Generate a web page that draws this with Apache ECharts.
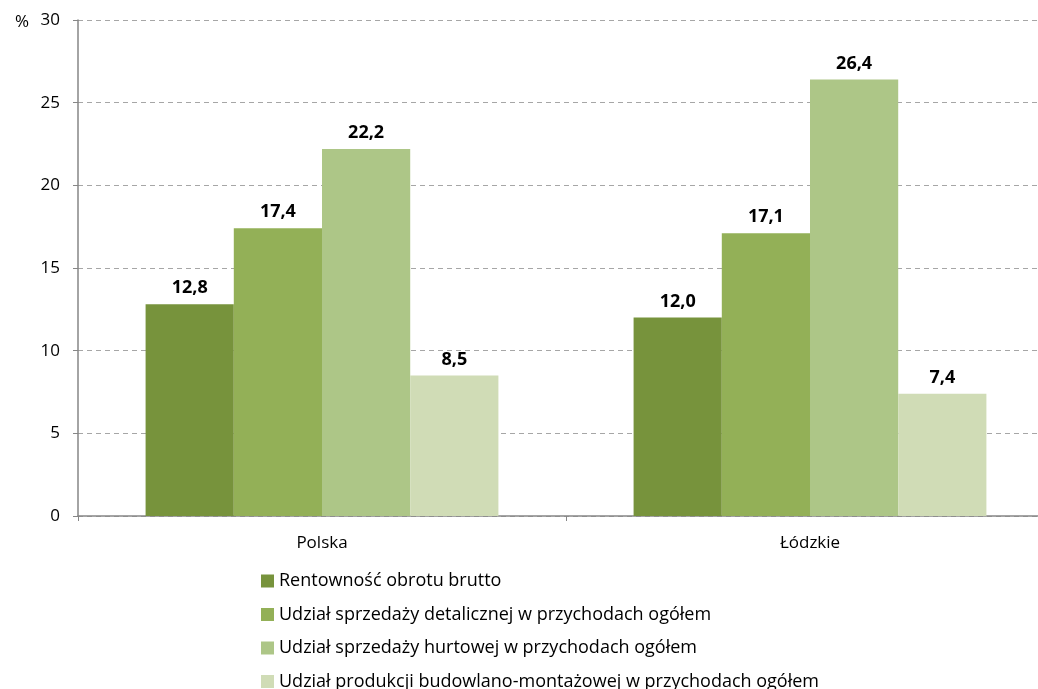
<!DOCTYPE html>
<html>
<head>
<meta charset="utf-8">
<script src="https://cdn.jsdelivr.net/npm/echarts@6/dist/echarts.min.js"></script>
<style>
  html, body { margin: 0; padding: 0; background: #fff; }
  #chart { width: 1038px; height: 689px; }
</style>
</head>
<body>
<div id="chart"></div>
<script>
var categories = ['Polska', 'Łódzkie']
var seriesNames = [
  'Rentowność obrotu brutto',
  'Udział sprzedaży detalicznej w przychodach ogółem',
  'Udział sprzedaży hurtowej w przychodach ogółem',
  'Udział produkcji budowlano-montażowej w przychodach ogółem'
]
var rentownosc = [12.8, 12.0]
var detaliczna = [17.4, 17.1]
var hurtowa = [22.2, 26.4]
var budowlana = [8.5, 7.4]
var colors = ['#77933C', '#93B057', '#ADC687', '#D0DCB6']

var font = '"Open Sans", "Noto Sans", sans-serif'
var chart = echarts.init(document.getElementById('chart'))

function makeSeries(name, data, i) {
  return {
    name: name,
    type: 'bar',
    data: data,
    barGap: '0%',
    barCategoryGap: '27.7%',
    itemStyle: { color: colors[i] },
    label: {
      show: true,
      position: 'top',
      distance: 7,
      fontFamily: font,
      fontSize: 18,
      fontWeight: 'bold',
      color: '#000',
      formatter: function (p) { return p.value.toFixed(1).replace('.', ',') }
    }
  }
}

var option = {
  animation: false,
  title: {
    text: '%',
    left: 10,
    top: 9,
    textStyle: { fontFamily: font, fontSize: 17, fontWeight: 'normal', color: '#000' }
  },
  grid: { left: 78, top: 20, right: -16, bottom: 173, outerBoundsMode: 'none' },
  legend: {
    orient: 'vertical',
    left: 256,
    top: 567,
    height: 200,
    itemWidth: 13,
    itemHeight: 13,
    itemGap: 15.5,
    icon: 'rect',
    textStyle: { fontFamily: font, fontSize: 18, color: '#000' },
    data: seriesNames
  },
  xAxis: {
    type: 'category',
    data: categories,
    axisLine: { lineStyle: { color: '#868686', width: 1.5 } },
    axisTick: { show: true, length: 5, lineStyle: { color: '#868686' } },
    axisLabel: { fontFamily: font, fontSize: 17, color: '#000', margin: 19 }
  },
  yAxis: {
    type: 'value',
    min: 0,
    max: 30,
    interval: 5,
    axisLine: { show: true, lineStyle: { color: '#868686', width: 1.5 } },
    axisTick: { show: true, length: 5, lineStyle: { color: '#868686' } },
    axisLabel: { fontFamily: font, fontSize: 17, color: '#000', margin: 18 },
    splitLine: { lineStyle: { color: '#A6A6A6', type: [5, 4], width: 1 } }
  },
  series: [
    makeSeries(seriesNames[0], rentownosc, 0),
    makeSeries(seriesNames[1], detaliczna, 1),
    makeSeries(seriesNames[2], hurtowa, 2),
    makeSeries(seriesNames[3], budowlana, 3)
  ]
}
chart.setOption(option)
</script>
</body>
</html>
